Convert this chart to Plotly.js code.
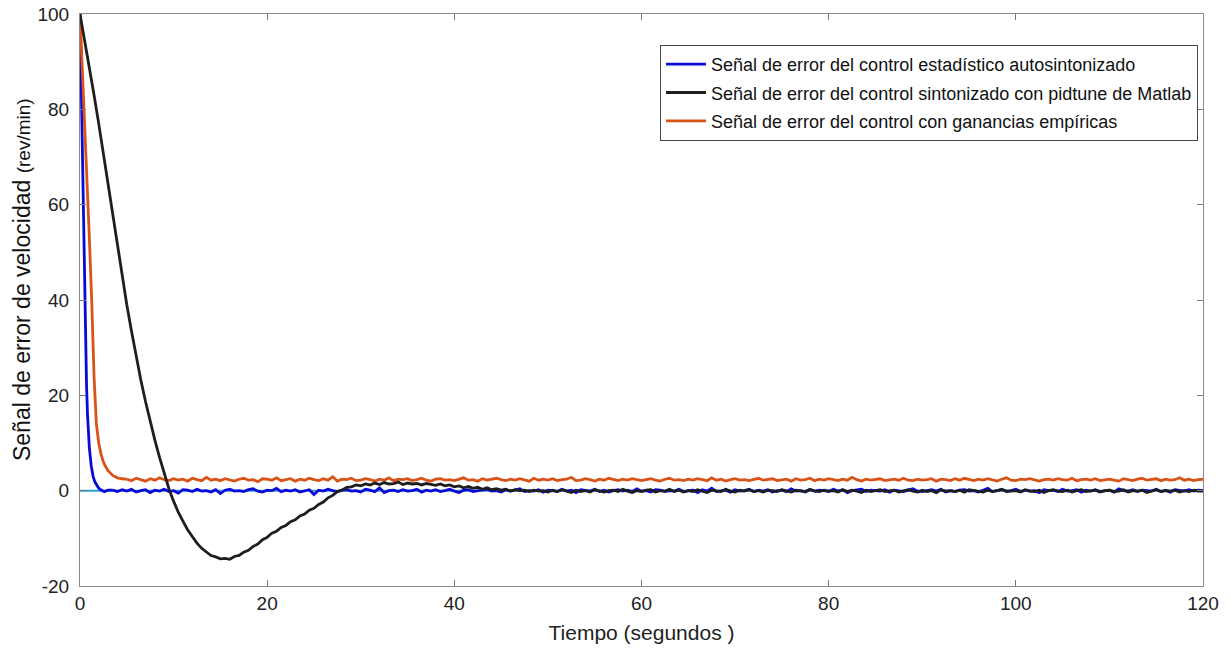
<!DOCTYPE html>
<html>
<head>
<meta charset="utf-8">
<script src="https://cdn.plot.ly/plotly-3.0.1.min.js"></script>
<style>html,body{margin:0;padding:0;background:#fff;}#chart{width:1231px;height:648px;}</style>
</head>
<body>
<div id="chart"></div>
<script>
// ---- Data ----
const seriesNames = [
  "Señal de error del control estadístico autosintonizado",
  "Señal de error del control sintonizado con pidtune de Matlab",
  "Señal de error del control con ganancias empíricas"
];
const xTitle = "Tiempo (segundos )";
const yTitle = "Señal de error de velocidad <span style='font-size:19px'>(rev/min)</span>";
const xTickVals = [0, 20, 40, 60, 80, 100, 120];
const yTickVals = [-20, 0, 20, 40, 60, 80, 100];

// Reference (setpoint error = 0) line
const refT = [0, 120];
const refV = [0, 0];

// Blue: auto-tuned statistical control
const blueTransT = [0,0.1,0.2,0.3,0.4,0.5,0.6,0.7,0.8,0.9,1.0,1.2,1.4,1.6,1.8,2.0,2.3,2.6,3.0,3.5];
const blueTransV = [100,88,76,63,51,40,30,22,16,12,9,5.2,3,1.8,1,0.5,0.1,-0.2,0.1,0.1];
const blueSteadyStart = 3.5, blueSteadyStep = 0.5;
const blueSteadyV = [
 0.1,-0.2,0.2,-0.1,0.3,-0.3,0.0,0.2,-0.4,0.1,
 -0.1,0.3,-0.2,0.0,-0.5,0.2,0.1,-0.2,0.3,-0.1,
 0.0,-0.3,0.2,-0.6,0.1,0.3,-0.1,0.0,-0.2,0.2,
 0.4,-0.1,-0.3,0.1,0.0,0.5,-0.2,0.1,-0.1,0.2,
 -0.3,0.0,0.2,-0.8,0.1,-0.1,0.3,0.0,-0.2,0.1,
 0.2,-0.1,0.0,-0.3,0.3,0.1,-0.2,0.6,-0.4,0.0,
 0.1,-0.2,0.2,-0.1,0.0,0.3,-0.3,0.1,-0.1,0.2,
 -0.2,0.0,0.3,-0.1,-0.4,0.1,0.2,-0.2,0.0,0.1,
 0.3,-0.1,0.0,-0.3,0.2,-0.1,0.1,0.4,-0.2,0.0,
 -0.1,0.2,-0.3,0.1,0.0,-0.2,0.3,-0.1,0.1,-0.4,
 0.2,0.0,-0.1,0.3,-0.2,0.1,-0.3,0.0,0.2,-0.1,
 0.1,-0.2,0.4,-0.1,0.0,-0.3,0.2,0.1,-0.2,0.0,
 -0.1,0.3,-0.2,0.0,0.1,-0.4,0.2,-0.1,0.5,-0.2,
 0.0,0.1,-0.3,0.2,-0.1,0.0,0.3,-0.2,0.1,-0.1,
 0.2,-0.3,0.0,0.1,-0.2,0.4,-0.1,0.0,-0.3,0.2,
 -0.1,0.1,0.0,-0.2,0.3,-0.1,0.2,-0.4,0.0,0.1,
 0.3,-0.2,0.1,0.0,-0.1,0.2,-0.3,0.1,0.0,-0.2,
 0.1,0.4,-0.1,-0.2,0.0,0.2,-0.1,0.3,-0.3,0.0,
 -0.2,0.1,0.2,-0.1,0.0,-0.3,0.1,0.5,-0.2,0.0,
 0.2,-0.1,0.0,0.3,-0.2,0.1,-0.1,0.0,-0.4,0.2,
 0.0,0.1,-0.2,0.3,-0.1,0.0,0.2,-0.3,0.1,-0.1,
 0.2,-0.2,0.0,0.1,-0.3,0.4,0.0,-0.1,0.2,-0.2,
 0.1,0.0,-0.1,0.3,-0.2,0.1,-0.3,0.2,0.0,-0.1,
 0.2,-0.1,0.1,0.0
];

// Orange: empirical gains
const orangeTransT = [0,0.25,0.5,0.75,1.0,1.25,1.5,1.75,2.0,2.25,2.5,2.75,3.0,3.5,4.0,4.5,5.0];
const orangeTransV = [100,89,77,65,53,40,24,14,10,7.6,6,5,4.2,3.2,2.7,2.5,2.4];
const orangeSteadyStart = 5, orangeSteadyStep = 0.5;
const orangeSteadyV = [
 2.4,2.1,2.6,2.3,2.0,2.5,2.2,2.7,2.3,2.1,
 2.5,2.2,2.4,2.0,2.6,2.3,2.1,2.8,2.2,2.4,
 2.1,2.5,2.3,2.0,2.4,2.6,2.2,2.3,1.9,2.5,
 2.4,2.2,2.7,2.1,2.3,2.5,2.0,2.4,2.2,2.6,
 2.3,2.1,2.5,2.2,2.9,2.0,2.4,2.3,2.6,2.1,
 2.2,2.5,2.3,2.0,2.4,2.2,2.7,2.1,2.4,2.3,
 2.5,2.1,2.3,2.6,2.2,2.0,2.4,2.5,2.2,2.3,
 2.1,2.4,2.7,2.2,2.3,2.0,2.5,2.2,2.4,2.6,
 2.3,2.1,2.4,2.2,2.5,2.3,2.0,2.6,2.2,2.4,
 2.2,2.5,2.1,2.3,2.4,2.8,2.1,2.2,2.5,2.3,
 2.0,2.4,2.2,2.6,2.3,2.1,2.4,2.2,2.5,2.3,
 2.1,2.3,2.5,2.2,2.0,2.4,2.6,2.2,2.3,2.1,
 2.4,2.2,2.5,2.3,2.1,2.7,2.2,2.4,2.0,2.3,
 2.5,2.2,2.3,2.1,2.4,2.6,2.2,2.3,2.5,2.1,
 2.3,2.4,2.0,2.5,2.2,2.3,2.6,2.1,2.4,2.2,
 2.5,2.3,2.1,2.4,2.2,2.8,2.3,2.0,2.4,2.2,
 2.3,2.5,2.1,2.3,2.4,2.2,2.6,2.2,2.1,2.4,
 2.2,2.3,2.5,2.0,2.4,2.3,2.1,2.5,2.2,2.6,
 2.3,2.1,2.4,2.2,2.5,2.3,2.0,2.4,2.7,2.2,
 2.1,2.4,2.3,2.5,2.2,2.0,2.3,2.4,2.2,2.5,
 2.3,2.2,2.6,2.1,2.3,2.4,2.2,2.5,2.1,2.3,
 2.4,2.2,2.0,2.5,2.3,2.1,2.4,2.6,2.2,2.3,
 2.5,2.1,2.4,2.2,2.3,2.7,2.2,2.4,2.1,2.3,
 2.4
];

// Black: pidtune (Matlab) control, sampled every 0.5 s from t = 0
const blackStart = 0, blackStep = 0.5;
const blackV = [
 100,94.5,89,83,77,70.5,64,57.5,51,45,39,33.5,28.2,23.2,18.7,14.5,10.6,7,3.6,0.4,
 -2.2,-4.5,-6.4,-8.2,-9.6,-11.0,-12.1,-12.8,-13.6,-13.9,-14.3,-14.2,-14.4,-13.8,-13.6,-12.9,-12.5,-11.7,-11.2,-10.3,
 -9.8,-8.9,-8.5,-7.7,-7.3,-6.5,-6.1,-5.3,-4.9,-4.1,-3.7,-2.9,-2.4,-1.5,-1.0,-0.2,0.1,0.7,0.8,1.2,
 1.0,1.4,1.2,1.6,1.3,1.7,1.4,1.5,1.8,1.3,1.6,1.4,1.5,1.2,1.5,1.3,1.1,1.4,1.0,1.2,
 0.8,1.0,0.6,0.9,0.5,0.7,0.3,0.6,0.2,0.4,0.1,0.3,-0.1,0.2,0.0,0.1,-0.2,0.1,-0.1,0.0,
 -0.3,0.1,-0.2,0.2,-0.1,-0.4,0.1,-0.2,0.0,-0.3,0.2,-0.1,-0.3,0.0,0.1,-0.2,0.3,-0.1,-0.4,0.0,
 -0.2,0.1,0.2,-0.3,0.0,-0.1,0.3,-0.2,0.1,-0.3,0.0,-0.2,0.2,-0.1,-0.4,0.1,0.0,-0.2,0.3,-0.1,
 -0.3,0.1,-0.1,0.2,-0.2,0.0,-0.3,0.1,0.0,-0.2,0.2,-0.1,-0.3,0.1,0.0,-0.2,0.3,-0.1,-0.2,0.1,
 -0.1,0.0,-0.3,0.2,-0.2,0.1,-0.1,-0.4,0.1,-0.2,0.0,0.2,-0.2,-0.1,0.1,-0.3,0.0,0.2,-0.1,-0.3,
 0.1,-0.2,0.0,-0.4,0.2,-0.1,0.0,-0.2,0.1,-0.3,0.2,0.0,-0.1,-0.3,0.1,-0.2,0.0,0.3,-0.2,-0.1,
 0.0,-0.3,0.2,-0.1,-0.2,0.1,-0.4,0.0,0.2,-0.1,-0.2,0.1,-0.3,0.0,0.2,-0.2,-0.1,0.1,-0.3,0.0,
 0.1,-0.2,-0.1,0.2,-0.3,0.0,-0.1,0.1,-0.4,-0.1,0.2,-0.2,0.0,-0.1,0.1,-0.3,0.0,-0.2,0.1,-0.1,
 -0.1
];

// ---- Styles ----
const colBlue = "#0a0ad8", colBlack = "#1e1e1e", colOrange = "#d95319", colRef = "#2e9fd6";
const lw = 2.8;

const traces = [
  {x: refT, y: refV, mode: "lines", line: {color: colRef, width: 2}, showlegend: false, hoverinfo: "skip"},
  {x: blueTransT, y: blueTransV, mode: "lines", name: seriesNames[0], legendgroup: "b", legendrank: 1,
   line: {color: colBlue, width: lw}},
  {x0: blueSteadyStart, dx: blueSteadyStep, y: blueSteadyV, mode: "lines", legendgroup: "b", showlegend: false,
   line: {color: colBlue, width: lw}},
  {x: orangeTransT, y: orangeTransV, mode: "lines", name: seriesNames[2], legendgroup: "o", legendrank: 3,
   line: {color: colOrange, width: lw}},
  {x0: orangeSteadyStart, dx: orangeSteadyStep, y: orangeSteadyV, mode: "lines", legendgroup: "o", showlegend: false,
   line: {color: colOrange, width: lw}},
  {x0: blackStart, dx: blackStep, y: blackV, mode: "lines", name: seriesNames[1], legendgroup: "k", legendrank: 2,
   line: {color: colBlack, width: lw}}
];

const axisCommon = {
  showgrid: false, zeroline: false, showline: true, mirror: "ticks",
  linecolor: "#8a8a8a", linewidth: 1, ticks: "inside", ticklen: 6, tickcolor: "#777", tickwidth: 1
};

const layout = {
  width: 1231, height: 648,
  margin: {l: 80, r: 28, t: 14, b: 62},
  paper_bgcolor: "#ffffff", plot_bgcolor: "#ffffff",
  showlegend: true,
  legend: {
    x: 0.5165, y: 0.946, xanchor: "left", yanchor: "top",
    bordercolor: "#444", borderwidth: 1, bgcolor: "#ffffff",
    font: {family: "Liberation Sans, Arial, sans-serif", size: 18, color: "#111"},
    tracegroupgap: 2, itemwidth: 40
  },
  xaxis: Object.assign({}, axisCommon, {
    range: [0, 120], tickvals: xTickVals, ticktext: xTickVals.map(String),
    tickfont: {family: "Liberation Sans, Arial, sans-serif", size: 19, color: "#222"},
    title: {text: xTitle, standoff: 12,
      font: {family: "Liberation Sans, Arial, sans-serif", size: 21, color: "#222"}}
  }),
  yaxis: Object.assign({}, axisCommon, {
    range: [-20, 100], tickvals: yTickVals, ticktext: yTickVals.map(String),
    ticklabelstandoff: 6,
    tickfont: {family: "Liberation Sans, Arial, sans-serif", size: 19, color: "#222"}
  }),
  annotations: [{
    text: yTitle, xref: "paper", yref: "paper", x: -0.0516, y: 0.535,
    xanchor: "center", yanchor: "middle", textangle: -90, showarrow: false,
    font: {family: "Liberation Sans, Arial, sans-serif", size: 23, color: "#111"}
  }]
};

Plotly.newPlot("chart", traces, layout, {displayModeBar: false, staticPlot: true});
</script>
</body>
</html>
